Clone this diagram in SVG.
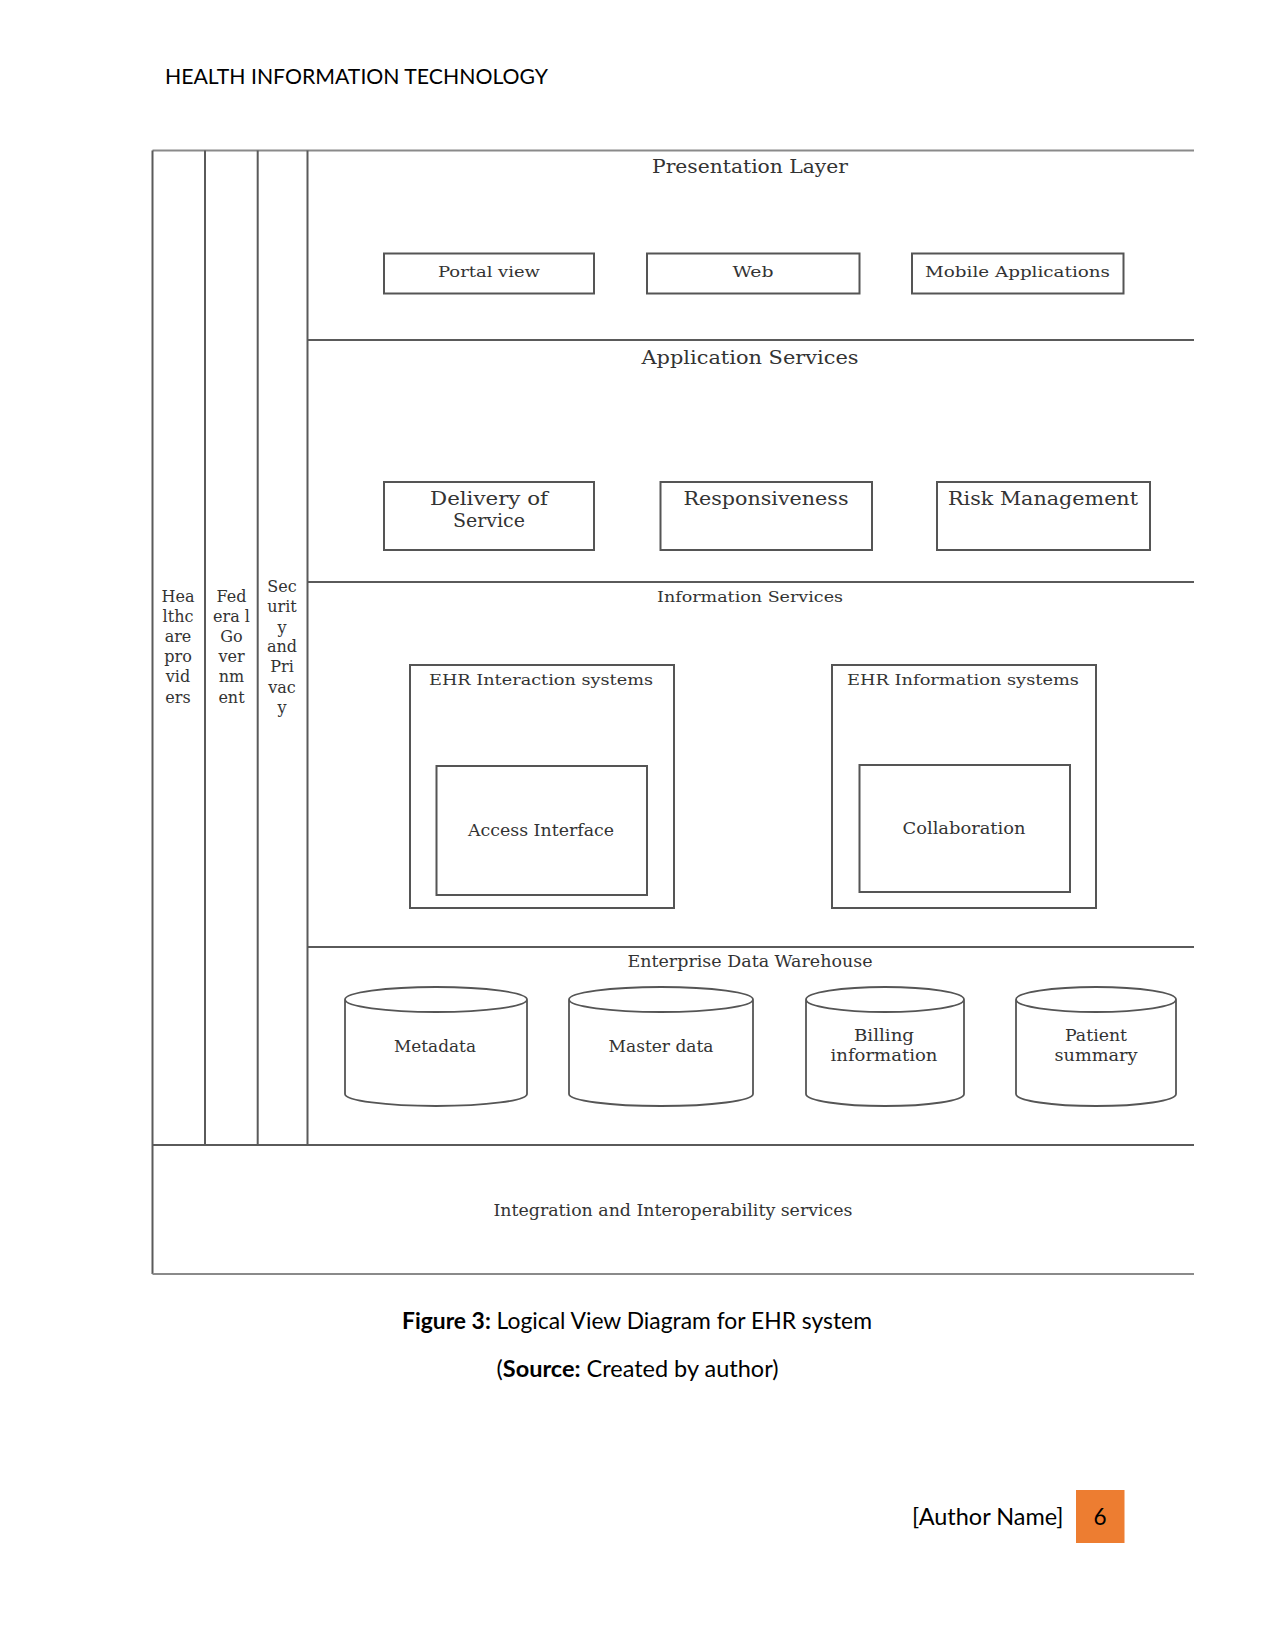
<svg xmlns="http://www.w3.org/2000/svg" width="1275" height="1650" viewBox="0 0 1275 1650">
<style>
.ln{stroke:#5a5a5a;stroke-width:2;fill:none}
.lt{stroke:#8a8a8a;stroke-width:2;fill:none}
.bx{stroke:#555;stroke-width:2;fill:#fff}
.cy{stroke:#555;stroke-width:1.8;fill:#fff}
.d{font-family:"DejaVu Serif","Liberation Serif",serif;fill:#333;text-anchor:middle}
.doc{font-family:Lato,"Liberation Sans",sans-serif;fill:#000}
</style>
<rect width="1275" height="1650" fill="#fff"/>
<text class="doc" x="165" y="84" font-size="22" textLength="383" lengthAdjust="spacingAndGlyphs">HEALTH INFORMATION TECHNOLOGY</text>

<g id="frame">
<line class="lt" x1="152.5" y1="150.5" x2="1194" y2="150.5"/>
<line class="ln" x1="152.5" y1="150.5" x2="152.5" y2="1274"/>
<line class="ln" x1="205" y1="150.5" x2="205" y2="1145"/>
<line class="ln" x1="257.7" y1="150.5" x2="257.7" y2="1145"/>
<line class="ln" x1="307.5" y1="150.5" x2="307.5" y2="1145"/>
<line class="ln" x1="307.5" y1="340" x2="1194" y2="340"/>
<line class="ln" x1="307.5" y1="582" x2="1194" y2="582"/>
<line class="ln" x1="307.5" y1="947" x2="1194" y2="947"/>
<line class="ln" x1="152.5" y1="1145" x2="1194" y2="1145"/>
<line class="lt" x1="152.5" y1="1274" x2="1194" y2="1274"/>
</g>

<g id="healthcare-providers">
<text class="d" font-size="16"><tspan x="178" y="602">Hea</tspan><tspan x="178" y="622">lthc</tspan><tspan x="178" y="642">are</tspan><tspan x="178" y="662">pro</tspan><tspan x="178" y="682">vid</tspan><tspan x="178" y="703">ers</tspan></text>
</g>
<g id="federal-government">
<text class="d" font-size="16"><tspan x="231.5" y="602">Fed</tspan><tspan x="231.5" y="622">era l</tspan><tspan x="231.5" y="642">Go</tspan><tspan x="231.5" y="662">ver</tspan><tspan x="231.5" y="682">nm</tspan><tspan x="231.5" y="703">ent</tspan></text>
</g>
<g id="security-privacy">
<text class="d" font-size="16"><tspan x="282" y="592">Sec</tspan><tspan x="282" y="612">urit</tspan><tspan x="282" y="633">y</tspan><tspan x="282" y="652">and</tspan><tspan x="282" y="672">Pri</tspan><tspan x="282" y="693">vac</tspan><tspan x="282" y="713">y</tspan></text>
</g>

<g id="presentation-layer">
<text class="d" x="750" y="173" font-size="18" textLength="196" lengthAdjust="spacingAndGlyphs">Presentation Layer</text>
</g>
<g id="portal-view">
<rect class="bx" x="384" y="253.5" width="210" height="40"/>
<text class="d" x="489" y="277" font-size="15" textLength="102" lengthAdjust="spacingAndGlyphs">Portal view</text>
</g>
<g id="web">
<rect class="bx" x="647" y="253.5" width="212.5" height="40"/>
<text class="d" x="753" y="277" font-size="15" textLength="41" lengthAdjust="spacingAndGlyphs">Web</text>
</g>
<g id="mobile-applications">
<rect class="bx" x="912" y="253.5" width="211.5" height="40"/>
<text class="d" x="1017.5" y="277" font-size="15" textLength="185" lengthAdjust="spacingAndGlyphs">Mobile Applications</text>
</g>

<g id="application-services">
<text class="d" x="750" y="364" font-size="19" textLength="217" lengthAdjust="spacingAndGlyphs">Application Services</text>
</g>
<g id="delivery-of-service">
<rect class="bx" x="384" y="482" width="210" height="68"/>
<text class="d" font-size="19"><tspan x="489" y="505" textLength="118" lengthAdjust="spacingAndGlyphs">Delivery of</tspan><tspan x="489" y="527">Service</tspan></text>
</g>
<g id="responsiveness">
<rect class="bx" x="660.5" y="482" width="211.5" height="68"/>
<text class="d" x="766" y="505" font-size="19" textLength="165" lengthAdjust="spacingAndGlyphs">Responsiveness</text>
</g>
<g id="risk-management">
<rect class="bx" x="937" y="482" width="213" height="68"/>
<text class="d" x="1043" y="505" font-size="19" textLength="190" lengthAdjust="spacingAndGlyphs">Risk Management</text>
</g>

<g id="information-services">
<text class="d" x="750" y="602" font-size="15.5" textLength="186" lengthAdjust="spacingAndGlyphs">Information Services</text>
</g>
<g id="ehr-interaction-systems">
<rect class="bx" x="410" y="665" width="264" height="243"/>
<text class="d" x="541" y="685" font-size="15.5" textLength="224" lengthAdjust="spacingAndGlyphs">EHR Interaction systems</text>
</g>
<g id="access-interface">
<rect class="bx" x="436.5" y="766" width="210.5" height="129"/>
<text class="d" x="541" y="836" font-size="16" textLength="146" lengthAdjust="spacingAndGlyphs">Access Interface</text>
</g>
<g id="ehr-information-systems">
<rect class="bx" x="832" y="665" width="264" height="243"/>
<text class="d" x="963" y="685" font-size="15.5" textLength="232" lengthAdjust="spacingAndGlyphs">EHR Information systems</text>
</g>
<g id="collaboration">
<rect class="bx" x="859.5" y="765" width="210.5" height="127"/>
<text class="d" x="964" y="834" font-size="16" textLength="123" lengthAdjust="spacingAndGlyphs">Collaboration</text>
</g>

<g id="enterprise-data-warehouse">
<text class="d" x="750" y="967" font-size="16" textLength="245" lengthAdjust="spacingAndGlyphs">Enterprise Data Warehouse</text>
</g>
<g id="metadata">
<path class="cy" d="M345,999.5 A91,12.5 0 0 1 527,999.5 L527,1094 A91,12 0 0 1 345,1094 Z M345,999.5 A91,12.5 0 0 0 527,999.5"/>
<text class="d" x="435" y="1051.5" font-size="16" textLength="82" lengthAdjust="spacingAndGlyphs">Metadata</text>
</g>
<g id="master-data">
<path class="cy" d="M569,999.5 A92,12.5 0 0 1 753,999.5 L753,1094 A92,12 0 0 1 569,1094 Z M569,999.5 A92,12.5 0 0 0 753,999.5"/>
<text class="d" x="661" y="1051.5" font-size="16" textLength="105" lengthAdjust="spacingAndGlyphs">Master data</text>
</g>
<g id="billing-information">
<path class="cy" d="M806,999.5 A79,12.5 0 0 1 964,999.5 L964,1094 A79,12 0 0 1 806,1094 Z M806,999.5 A79,12.5 0 0 0 964,999.5"/>
<text class="d" font-size="16"><tspan x="884" y="1041" textLength="60" lengthAdjust="spacingAndGlyphs">Billing</tspan><tspan x="884" y="1061" textLength="107" lengthAdjust="spacingAndGlyphs">information</tspan></text>
</g>
<g id="patient-summary">
<path class="cy" d="M1016,999.5 A80,12.5 0 0 1 1176,999.5 L1176,1094 A80,12 0 0 1 1016,1094 Z M1016,999.5 A80,12.5 0 0 0 1176,999.5"/>
<text class="d" font-size="16"><tspan x="1096" y="1041" textLength="62" lengthAdjust="spacingAndGlyphs">Patient</tspan><tspan x="1096" y="1061" textLength="83" lengthAdjust="spacingAndGlyphs">summary</tspan></text>
</g>

<g id="integration-interoperability">
<text class="d" x="673" y="1215.5" font-size="16" textLength="359" lengthAdjust="spacingAndGlyphs">Integration and Interoperability services</text>
</g>

<g id="connectors"></g>

<text class="doc" x="637" y="1329" font-size="22.5" text-anchor="middle" textLength="470" lengthAdjust="spacingAndGlyphs"><tspan font-weight="bold">Figure 3:</tspan> Logical View Diagram for EHR system</text>
<text class="doc" x="637.5" y="1377" font-size="22.5" text-anchor="middle" textLength="282" lengthAdjust="spacingAndGlyphs">(<tspan font-weight="bold">Source:</tspan> Created by author)</text>

<text class="doc" x="1063.5" y="1525" font-size="22.5" text-anchor="end" textLength="151.5" lengthAdjust="spacingAndGlyphs">[Author Name]</text>
<rect x="1076" y="1490" width="48.5" height="53" fill="#ED7D31"/>
<text class="doc" x="1100" y="1525" font-size="22.5" text-anchor="middle">6</text>
</svg>
